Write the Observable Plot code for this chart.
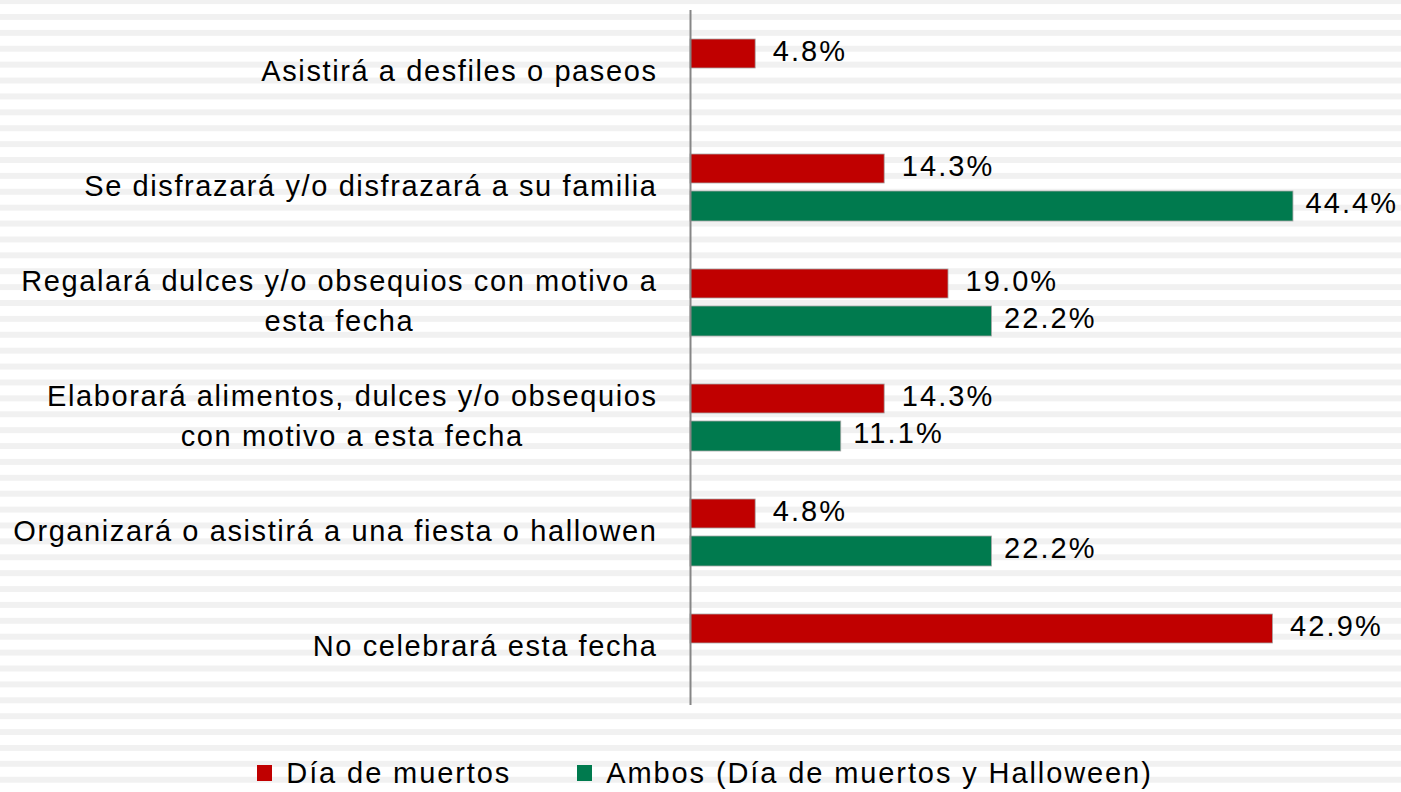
<!DOCTYPE html>
<html>
<head>
<meta charset="utf-8">
<script src="https://cdn.jsdelivr.net/npm/d3@7"></script>
<script src="https://cdn.jsdelivr.net/npm/@observablehq/plot@0.6"></script>
<style>
  html, body { margin: 0; padding: 0; }
  body {
    width: 1401px; height: 792px; overflow: hidden;
    background-color: #ffffff;
    background-image: linear-gradient(to bottom, #f1f1f1 0px, #f1f1f1 5.5px, #ffffff 5.5px, #ffffff 15.9px);
    background-size: 100% 15.9px;
    background-position: 0 14px;
    font-family: "Liberation Sans", Arial, sans-serif;
  }
  #chart svg { background: transparent !important; display: block; }
  .legend { display: flex; justify-content: center; align-items: center; gap: 66px;
    margin-top: 18px; padding-left: 9px; font-size: 29px; line-height: 30px; letter-spacing: 1.9px; color: #000; }
  .legend .item { display: flex; align-items: center; }
  .legend .sw { width: 15px; height: 16px; margin-right: 14px; }
</style>
</head>
<body>
<div id="chart"></div>
<div class="legend" id="legend"></div>
<script>
const categories = [
  "Asistirá a desfiles o paseos",
  "Se disfrazará y/o disfrazará a su familia",
  "Regalará dulces y/o obsequios con motivo a esta fecha",
  "Elaborará alimentos, dulces y/o obsequios con motivo a esta fecha",
  "Organizará o asistirá a una fiesta o hallowen",
  "No celebrará esta fecha"
];
const tickLabels = [
  "Asistirá a desfiles o paseos",
  "Se disfrazará y/o disfrazará a su familia",
  "Regalará dulces y/o obsequios con motivo a\nesta fecha",
  "Elaborará alimentos, dulces y/o obsequios\ncon motivo a esta fecha",
  "Organizará o asistirá a una fiesta o hallowen",
  "No celebrará esta fecha"
];
const seriesNames = ["Día de muertos", "Ambos (Día de muertos y Halloween)"];
const diaDeMuertos = [4.8, 14.3, 19.0, 14.3, 4.8, 42.9];
const ambos = [null, 44.4, 22.2, 11.1, 22.2, null];
const colors = ["#c00000", "#007a4e"];

const dia = categories.map((c, i) => ({cat: c, value: diaDeMuertos[i]})).filter(d => d.value != null);
const amb = categories.map((c, i) => ({cat: c, value: ambos[i]})).filter(d => d.value != null);
const fmt = v => v.toFixed(1) + "%";
const labelMap = new Map(categories.map((c, i) => [c, tickLabels[i]]));

const fontFamily = '"Liberation Sans", Arial, sans-serif';

const chart = Plot.plot({
  width: 1401,
  height: 740,
  marginLeft: 690,
  marginRight: 32,
  marginTop: 10,
  marginBottom: 35,
  style: {background: "transparent", fontFamily, color: "#000"},
  x: {domain: [0, 50], axis: null},
  y: {domain: categories, padding: 0, label: null},
  marks: [
    Plot.barX(dia, {x: "value", y: "cat", fill: colors[0], stroke: "#a8a8a8", strokeWidth: 0.8, insetTop: 26, insetBottom: 60}),
    Plot.barX(amb, {x: "value", y: "cat", fill: colors[1], stroke: "#a8a8a8", strokeWidth: 0.8, insetTop: 63, insetBottom: 22}),
    Plot.text(dia, {x: "value", y: "cat", text: d => fmt(d.value), dx: 17, dy: -19, textAnchor: "start", fontSize: 29, fill: "#000", fontFamily, className: "val"}),
    Plot.text(amb, {x: "value", y: "cat", text: d => fmt(d.value), dx: 12, dy: 18, textAnchor: "start", fontSize: 29, fill: "#000", fontFamily, className: "val"}),
    Plot.ruleX([0], {stroke: "#868686", strokeWidth: 2}),
    Plot.axisY({tickSize: 0, tickPadding: 33, dy: -3, fontSize: 29, lineHeight: 1.38, tickFormat: d => labelMap.get(d), fill: "#000", label: null, fontFamily})
  ]
});
chart.querySelectorAll('g[aria-label="y-axis tick label"] text').forEach(t => t.style.letterSpacing = "1.6px");
chart.querySelectorAll('g.val text, .val text').forEach(t => t.style.letterSpacing = "2.1px");
document.getElementById("chart").appendChild(chart);

// center multi-line category labels as blocks
chart.querySelectorAll('g[aria-label="y-axis tick label"] text').forEach(t => {
  const spans = t.querySelectorAll("tspan");
  if (spans.length > 1) {
    const w = t.getBBox().width;
    t.setAttribute("text-anchor", "middle");
    spans.forEach(s => s.setAttribute("x", -w / 2));
  }
});

const legend = document.getElementById("legend");
seriesNames.forEach((name, i) => {
  const item = document.createElement("div");
  item.className = "item";
  const sw = document.createElement("span");
  sw.className = "sw";
  sw.style.background = colors[i];
  const lab = document.createElement("span");
  lab.textContent = name;
  item.appendChild(sw);
  item.appendChild(lab);
  legend.appendChild(item);
});
</script>
</body>
</html>
